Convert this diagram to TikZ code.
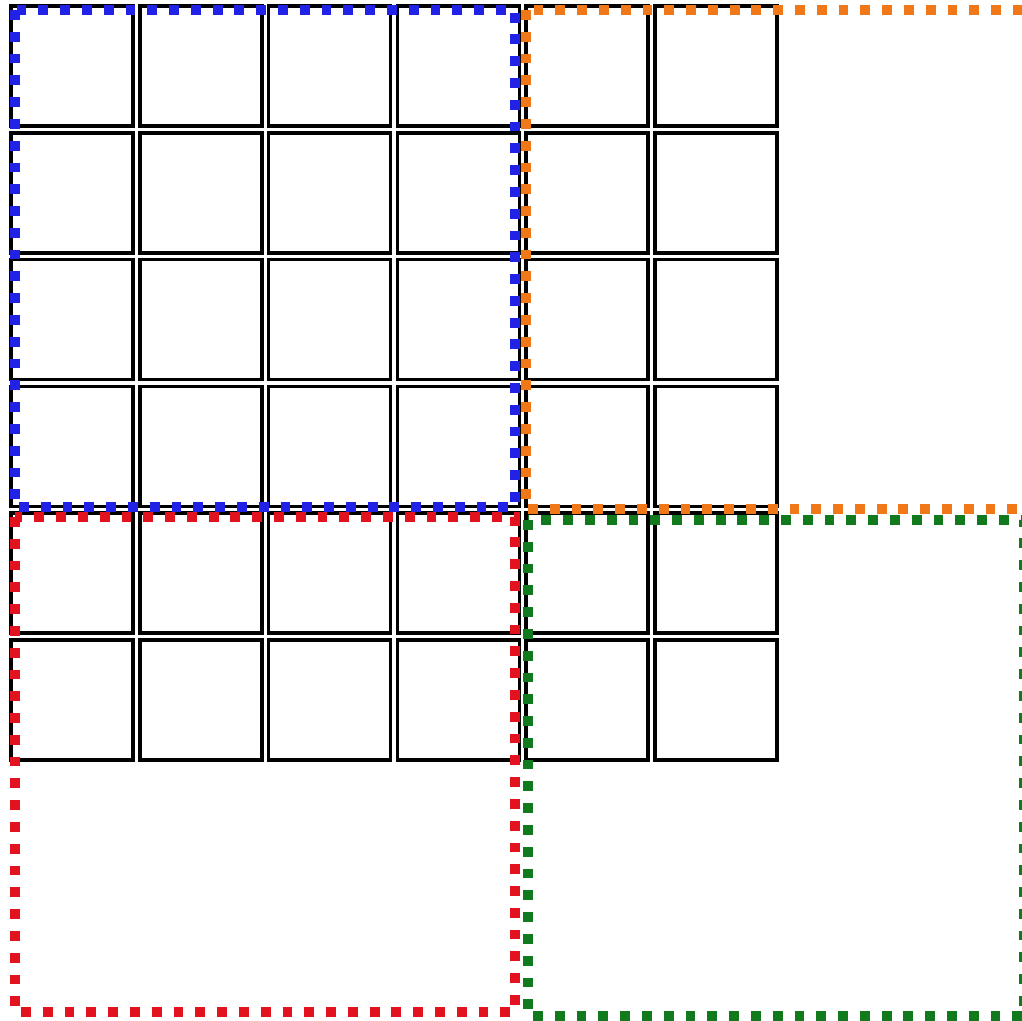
\documentclass[tikz,border=0pt]{standalone}
\usepackage{xcolor}
\usepackage{tikz}
\definecolor{tileblue}{HTML}{2222E6}
\definecolor{tileorange}{HTML}{F07818}
\definecolor{tilered}{HTML}{E3121F}
\definecolor{tilegreen}{HTML}{127A1E}
\tikzset{
  cell/.style={draw=black, line width=2pt, minimum width=2.44cm, minimum height=2.4cm,
    inner sep=0pt, outer sep=0pt},
  tile/.style={line width=5.6pt, dash pattern=on 5.6pt off 6.8pt}
}

\begin{document}
\begin{tikzpicture}[x=0.02cm, y=-0.02cm]
\useasboundingbox (0,0) rectangle (1022,1021);
% 6x6 matrix of cells
\foreach \i in {0,...,5}{
  \foreach \j in {0,...,5}{
    \node[cell] (c-\i-\j) at (72+128.8*\j, 66+126.8*\i) {};
  }
}
% 4x4 tiles laid over the matrix
\draw[tile, draw=tileblue] (15,10) rectangle (515,507);
\draw[tile, draw=tileorange] (526,10) rectangle (1027,509);
\draw[tile, draw=tilered] (15,517) rectangle (515,1012);
\draw[tile, draw=tilegreen] (528,520) rectangle (1024,1016);
\end{tikzpicture}
\end{document}
